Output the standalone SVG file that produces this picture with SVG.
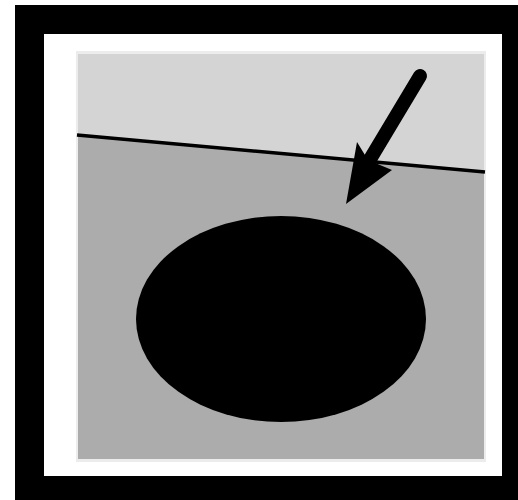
<svg xmlns="http://www.w3.org/2000/svg" width="518" height="500" viewBox="0 0 518 500">
<style>
.frame{fill:#000}
.mat{fill:#fff}
.ink{fill:#000}
</style>
<rect width="518" height="500" fill="#fff"/>
<rect class="frame" x="15" y="5" width="503" height="495"/>
<rect class="mat" x="44" y="34" width="458" height="442"/>
<g id="panel">
<rect x="76" y="51" width="410" height="411" fill="#ececec"/>
<rect x="78" y="54" width="406" height="405" fill="#d3d4d3"/>
<polygon points="78,135 484,172 484,459 78,459" fill="#abacab"/>
<line x1="77" y1="135" x2="485" y2="172" stroke="#000" stroke-width="3.5"/>
</g>
<g id="hole">
<ellipse class="ink" cx="281" cy="319" rx="145" ry="103"/>
</g>
<g id="arrow">
<line x1="420" y1="76" x2="366" y2="166" stroke="#000" stroke-width="14" stroke-linecap="round"/>
<polygon class="ink" points="346,204 357,142 368,160 392,170"/>
</g>
</svg>
